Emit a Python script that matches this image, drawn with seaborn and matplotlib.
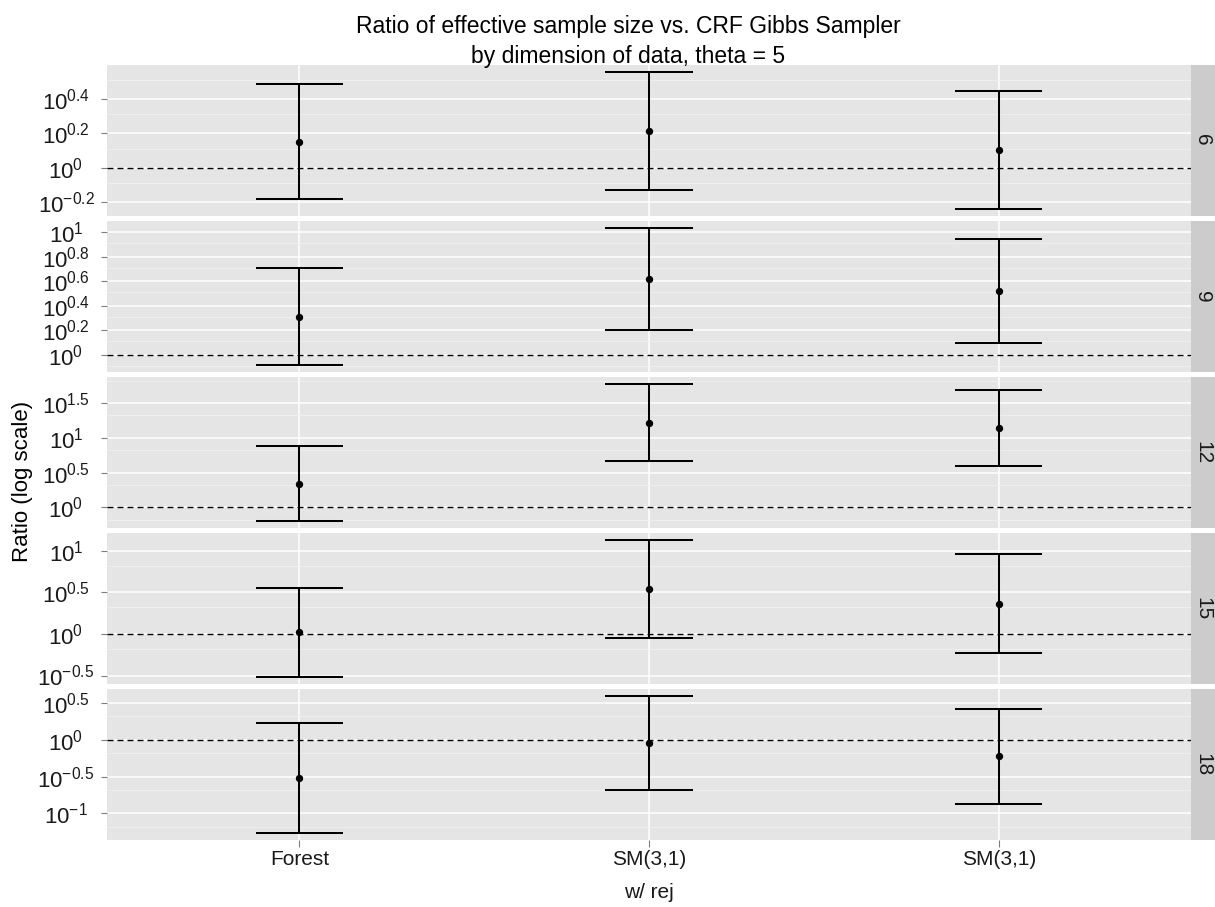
import numpy as np
import pandas as pd
import seaborn as sns
import matplotlib
matplotlib.use("Agg")
import matplotlib.pyplot as plt
from matplotlib.ticker import FixedLocator, FixedFormatter, NullFormatter

# ---- data -----------------------------------------------------------------
dimension = [6, 9, 12, 15, 18]
sampler = ["Forest", "SM(3,1)\nw/ rej", "SM(3,1)"]

# log10 of the ESS ratio (rows follow `dimension`, columns follow `sampler`)
log_ratio = [
    [0.152, 0.213, 0.103],
    [0.308, 0.618, 0.519],
    [0.339, 1.217, 1.146],
    [0.023, 0.537, 0.361],
    [-0.524, -0.041, -0.221],
]
log_lower = [
    [-0.181, -0.130, -0.239],
    [-0.081, 0.205, 0.097],
    [-0.192, 0.664, 0.593],
    [-0.517, -0.044, -0.232],
    [-1.268, -0.682, -0.868],
]
log_upper = [
    [0.485, 0.558, 0.445],
    [0.706, 1.037, 0.945],
    [0.885, 1.769, 1.690],
    [0.550, 1.125, 0.955],
    [0.227, 0.593, 0.419],
]

# spacing of the labelled exponents on each facet's y axis
tick_step = [0.2, 0.2, 0.5, 0.5, 0.5]

rows = []
for i, d in enumerate(dimension):
    for j, s in enumerate(sampler):
        rows.append(dict(dimension=d, sampler=s, pos=j,
                         ratio=10 ** log_ratio[i][j],
                         lower=10 ** log_lower[i][j],
                         upper=10 ** log_upper[i][j]))
df = pd.DataFrame(rows)

# ---- style ----------------------------------------------------------------
sns.set_theme(style="darkgrid")
plt.rcParams["font.family"] = ["Liberation Sans", "DejaVu Sans"]
plt.rcParams["mathtext.fontset"] = "custom"
plt.rcParams["mathtext.rm"] = "Liberation Sans"
plt.rcParams["mathtext.it"] = "Liberation Sans:italic"
plt.rcParams["mathtext.bf"] = "Liberation Sans:bold"
plt.rcParams["mathtext.default"] = "regular"

W, H = 1215, 907
DPI = 100
fig = plt.figure(figsize=(W / DPI, H / DPI), dpi=DPI)
fig.patch.set_facecolor("white")

panel_left, panel_right = 107, 1191
strip_right = 1215
panel_top, panel_h, panel_gap = 65, 150.5, 5.6
ytick_len_pt = 4.5
ylabel_center_x = 66  # tick labels are centred on this x (pixels)
ytick_pad_pt = (panel_left - ylabel_center_x) * 72 / DPI - ytick_len_pt

axes = []
for i, d in enumerate(dimension):
    top = panel_top + i * (panel_h + panel_gap)
    rect = [panel_left / W, 1 - (top + panel_h) / H,
            (panel_right - panel_left) / W, panel_h / H]
    ax = fig.add_axes(rect, sharex=axes[0] if axes else None)
    axes.append(ax)
    sub = df[df["dimension"] == d]

    ax.set_facecolor("#E5E5E5")
    for sp in ax.spines.values():
        sp.set_visible(False)
    ax.set_yscale("log")

    # limits: data range padded by 5% in log space
    lo = min(log_lower[i])
    hi = max(log_upper[i])
    pad = 0.05 * (hi - lo)
    ax.set_ylim(10 ** (lo - pad), 10 ** (hi + pad))

    step = tick_step[i]
    k0 = int(np.floor((lo - pad) / step)) - 1
    k1 = int(np.ceil((hi + pad) / step)) + 1
    exps = [round(k * step, 6) for k in range(k0, k1 + 1)]
    major = [e for e in exps if lo - pad <= e <= hi + pad]
    minor = [(10 ** a + 10 ** b) / 2 for a, b in zip(exps[:-1], exps[1:])]
    ax.yaxis.set_major_locator(FixedLocator([10 ** e for e in major]))
    ax.yaxis.set_major_formatter(FixedFormatter(
        [f"$10^{{{e:g}}}$".replace("-", "\u2212") for e in major]))
    ax.yaxis.set_minor_locator(FixedLocator(minor))
    ax.yaxis.set_minor_formatter(NullFormatter())

    ax.set_axisbelow(True)
    ax.grid(False)
    ax.grid(True, which="major", axis="y", color="white", lw=1.1)
    ax.grid(True, which="minor", axis="y", color="#F2F2F2", lw=0.55)
    ax.grid(True, which="major", axis="x", color="white", lw=1.1)

    ax.axhline(1, color="black", lw=1.0, dashes=(4.3, 2.9), zorder=2)

    # error bars with caps
    ax.vlines(sub["pos"], sub["lower"], sub["upper"], color="black",
              lw=1.45, zorder=3)
    ax.hlines(sub["lower"], sub["pos"] - 0.125, sub["pos"] + 0.125,
              color="black", lw=1.45, zorder=3)
    ax.hlines(sub["upper"], sub["pos"] - 0.125, sub["pos"] + 0.125,
              color="black", lw=1.45, zorder=3)
    sns.scatterplot(data=sub, x="pos", y="ratio", color="black", s=28,
                    linewidth=0, ax=ax, zorder=4, legend=False)

    ax.set_xlim(-0.55, 2.55)
    ax.set_xticks(range(len(sampler)))
    ax.set_xlabel("")
    ax.set_ylabel("")
    ax.tick_params(axis="y", which="major", left=True, length=ytick_len_pt,
                   width=0.8, color="#7F7F7F", labelsize=16,
                   labelcolor="#1A1A1A", pad=ytick_pad_pt)
    for lab in ax.get_yticklabels():
        lab.set_horizontalalignment("center")
    ax.tick_params(axis="y", which="minor", left=False, length=0)
    if i < len(dimension) - 1:
        ax.tick_params(axis="x", bottom=False, labelbottom=False)
    else:
        ax.set_xticklabels(sampler)
        ax.tick_params(axis="x", bottom=True, length=5, width=0.8,
                       color="#7F7F7F", labelsize=15, labelcolor="#1A1A1A",
                       pad=2.5)
        for lab in ax.get_xticklabels():
            lab.set_linespacing(1.9)

    # facet strip
    sax = fig.add_axes([panel_right / W, 1 - (top + panel_h) / H,
                        (strip_right - panel_right) / W, panel_h / H])
    sax.set_facecolor("#CCCCCC")
    sax.set_xticks([])
    sax.set_yticks([])
    for sp in sax.spines.values():
        sp.set_visible(False)
    sax.text(0.5, 0.5, str(d), rotation=270, ha="center", va="center",
             fontsize=15, color="#1A1A1A", transform=sax.transAxes)

fig.text(628 / W, 1 - 32.6 / H, "Ratio of effective sample size vs. CRF Gibbs Sampler",
         ha="center", va="baseline", fontsize=16.5, color="black")
fig.text(628 / W, 1 - 63.2 / H, "by dimension of data, theta = 5",
         ha="center", va="baseline", fontsize=16.5, color="black")
fig.text(23 / W, 1 - 481.5 / H, "Ratio (log scale)", rotation=90,
         ha="center", va="center", fontsize=16, color="black")

fig.savefig("out.png", dpi=DPI)
